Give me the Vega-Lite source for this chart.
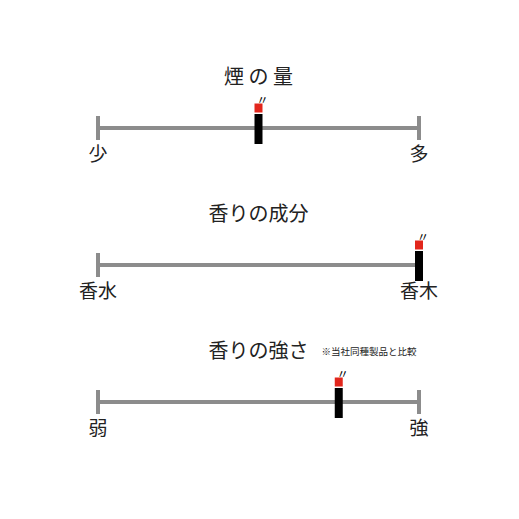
{
  "$schema": "https://vega.github.io/schema/vega-lite/v6.json",
  "width": 519,
  "height": 519,
  "autosize": {"type": "fit", "contains": "padding"},
  "padding": 0,
  "background": "white",
  "config": {
    "view": {"stroke": null},
    "text": {"font": "Noto Sans CJK JP", "color": "#222222"}
  },
  "data": {
    "values": [
      {"item": "煙の量", "title": "煙 の 量", "left": "少", "right": "多", "value": 50, "note": ""},
      {"item": "香りの成分", "title": "香りの成分", "left": "香水", "right": "香木", "value": 100, "note": ""},
      {"item": "香りの強さ", "title": "香りの強さ", "left": "弱", "right": "強", "value": 75, "note": "※当社同種製品と比較"}
    ]
  },
  "encoding": {
    "y": {
      "field": "item",
      "type": "nominal",
      "sort": ["煙の量", "香りの成分", "香りの強さ"],
      "scale": {"type": "point", "range": [128, 402], "padding": 0},
      "axis": null
    }
  },
  "layer": [
    {
      "mark": {"type": "rule", "color": "#8c8c8c", "strokeWidth": 4},
      "encoding": {
        "x": {"datum": 0, "type": "quantitative", "scale": {"domain": [0, 100], "range": [98, 419]}, "axis": null},
        "x2": {"datum": 100}
      }
    },
    {
      "mark": {"type": "tick", "orient": "vertical", "color": "#8c8c8c", "size": 24, "thickness": 4, "opacity": 1},
      "encoding": {"x": {"datum": 0, "type": "quantitative"}}
    },
    {
      "mark": {"type": "tick", "orient": "vertical", "color": "#8c8c8c", "size": 24, "thickness": 4, "opacity": 1},
      "encoding": {"x": {"datum": 100, "type": "quantitative"}}
    },
    {
      "mark": {"type": "tick", "orient": "vertical", "color": "#000000", "size": 30, "thickness": 8, "yOffset": 1, "opacity": 1},
      "encoding": {"x": {"field": "value", "type": "quantitative"}}
    },
    {
      "mark": {"type": "tick", "orient": "vertical", "color": "#e2261c", "size": 9, "thickness": 8, "yOffset": -20, "opacity": 1},
      "encoding": {"x": {"field": "value", "type": "quantitative"}}
    },
    {
      "mark": {"type": "text", "text": "〃", "fontSize": 12, "xOffset": 4, "yOffset": -27, "color": "#000000"},
      "encoding": {"x": {"field": "value", "type": "quantitative"}}
    },
    {
      "mark": {"type": "text", "fontSize": 19, "yOffset": 27},
      "encoding": {"x": {"datum": 0, "type": "quantitative"}, "text": {"field": "left"}}
    },
    {
      "mark": {"type": "text", "fontSize": 19, "yOffset": 27},
      "encoding": {"x": {"datum": 100, "type": "quantitative"}, "text": {"field": "right"}}
    },
    {
      "mark": {"type": "text", "fontSize": 20, "yOffset": -50},
      "encoding": {"x": {"datum": 50, "type": "quantitative"}, "text": {"field": "title"}}
    },
    {
      "mark": {"type": "text", "fontSize": 9.5, "yOffset": -50, "dx": 63, "align": "left"},
      "encoding": {"x": {"datum": 50, "type": "quantitative"}, "text": {"field": "note"}}
    }
  ]
}
